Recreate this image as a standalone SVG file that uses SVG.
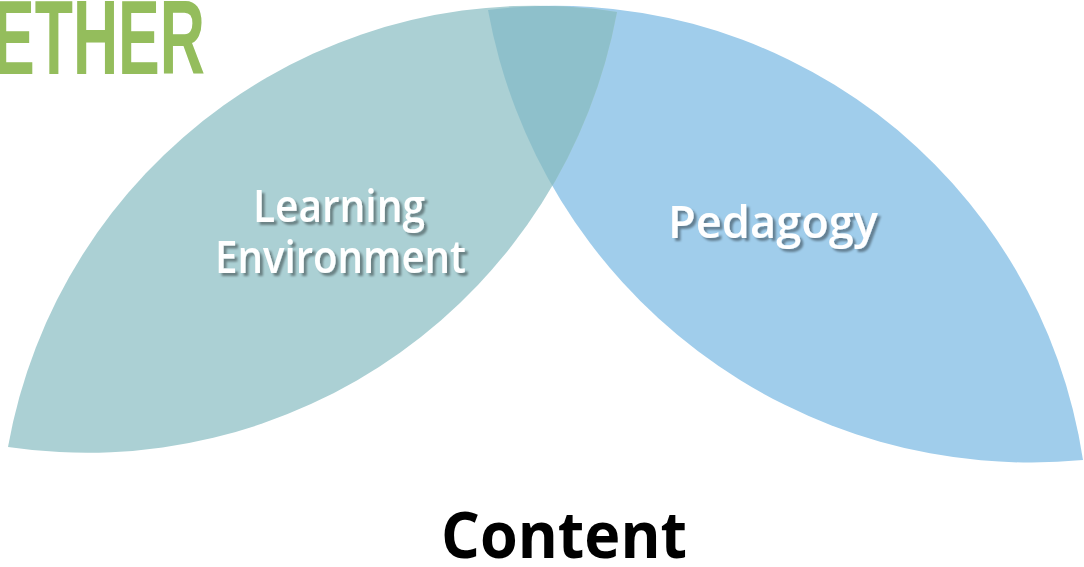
<svg xmlns="http://www.w3.org/2000/svg" width="1084" height="567" viewBox="0 0 1084 567">
  <defs>
    <style>
      .label { font-family: "Open Sans", "Noto Sans", "DejaVu Sans", sans-serif; font-weight: 600; font-size: 45px; fill: #ffffff; }
      .content { font-family: "Open Sans", "Noto Sans", "DejaVu Sans", sans-serif; font-weight: 700; font-size: 65px; fill: #000000; }
      .title { font-family: "Liberation Sans", Arial, sans-serif; font-weight: 700; font-size: 106px; fill: #94bd5c; }
    </style>
    <filter id="shadow" x="-10%" y="-20%" width="120%" height="150%">
      <feDropShadow dx="3" dy="3" stdDeviation="0.8" flood-color="#000000" flood-opacity="0.38"/>
    </filter>
    <path id="leftShape" d="M 8 447 A 535 535 0 0 1 617 12 A 539 539 0 0 1 8 447 Z"/>
    <path id="rightShape" d="M 488 10 A 534 534 0 0 1 1083 460 A 551 551 0 0 1 488 10 Z"/>
    <clipPath id="clipRight">
      <use href="#rightShape"/>
    </clipPath>
  </defs>

  <g id="title">
    <text class="title" transform="translate(-7 74) scale(0.59 1)" x="0" y="0">ETHER</text>
  </g>

  <g id="pedagogy">
    <use href="#rightShape" fill="#a0cdeb"/>
    <text class="label" x="668" y="238" textLength="210" lengthAdjust="spacingAndGlyphs" filter="url(#shadow)">Pedagogy</text>
  </g>

  <g id="learning-environment">
    <use href="#leftShape" fill="#abd0d4"/>
    <text class="label" filter="url(#shadow)">
      <tspan x="253" y="222" textLength="172" lengthAdjust="spacingAndGlyphs">Learning</tspan>
      <tspan x="215" y="273" textLength="251" lengthAdjust="spacingAndGlyphs">Environment</tspan>
    </text>
  </g>

  <g id="overlap">
    <use href="#leftShape" fill="#8ec0cb" clip-path="url(#clipRight)"/>
  </g>

  <g id="connectors"></g>

  <g id="content">
    <text class="content" x="441" y="558" textLength="246" lengthAdjust="spacingAndGlyphs">Content</text>
  </g>
</svg>
